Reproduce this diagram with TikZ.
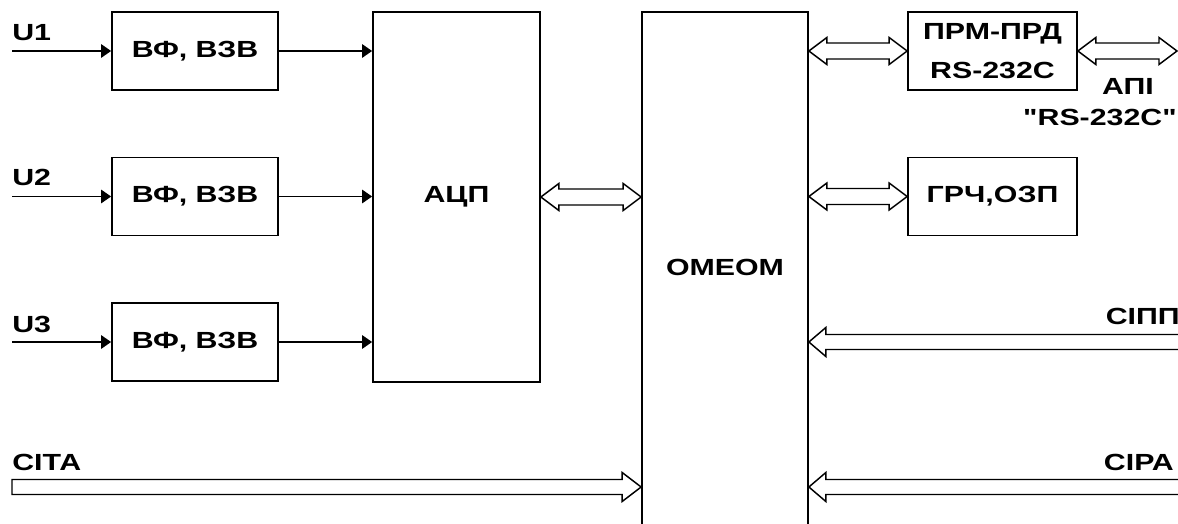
\documentclass[tikz,border=0pt]{standalone}
\usepackage{fontspec}
\newfontfamily\diafont{Liberation Sans}[FakeStretch=1.3]
\usetikzlibrary{arrows.meta,calc}
\newcommand{\txt}{\diafont\fontsize{17.5}{29}\selectfont\bfseries}
\tikzset{
  box/.style={draw, line width=1.3pt, minimum width=124.5pt, minimum height=58.5pt, inner sep=0pt, font=\txt, align=center},
  lbl/.style={inner sep=0pt, font=\txt},
  arr/.style={line width=1.4pt, -{Triangle[length=7.5pt,width=10pt]}},
  bus/.style={line width=1.1pt, fill=white, line join=miter}
}
% hollow double-headed arrow between #1 (left) and #2 (right)
\newcommand{\dblbus}[2]{%
  \draw[bus] (#1) -- ++(18,-13.5) -- ++(0,5.5) -- ($(#2)+(-18,-8)$) -- ++(0,-5.5) -- (#2)
    -- ++(-18,13.5) -- ++(0,-5.5) -- ($(#1)+(18,8)$) -- ++(0,5.5) -- cycle;}
% hollow arrow pointing right: tail #1, tip #2
\newcommand{\rbus}[2]{%
  \draw[bus] ($(#1)+(0,-7.5)$) -- ($(#2)+(-19,-7.5)$) -- ++(0,-7) -- (#2)
    -- ++(-19,14.5) -- ++(0,-7) -- ($(#1)+(0,7.5)$) -- cycle;}
% hollow arrow pointing left: tail #1, tip #2
\newcommand{\lbus}[2]{%
  \draw[bus] ($(#1)+(0,-7.5)$) -- ($(#2)+(17,-7.5)$) -- ++(0,-7) -- (#2)
    -- ++(17,14.5) -- ++(0,-7) -- ($(#1)+(0,7.5)$) -- cycle;}
\begin{document}
\begin{tikzpicture}[x=0.75pt,y=-0.75pt]
\useasboundingbox (0,0) rectangle (1178,524);
\clip (0,0) rectangle (1178,524);
\fill[white] (0,0) rectangle (1178,524);

% filter blocks
\node[box] (f1) at (195,51) {ВФ, ВЗВ};
\node[box] (f2) at (195,196.5) {ВФ, ВЗВ};
\node[box] (f3) at (195,342) {ВФ, ВЗВ};

% ADC
\node[box, minimum width=125.25pt, minimum height=277.5pt] (adc) at (456.5,197) {АЦП};

% microcomputer (open at the bottom, beyond the picture)
\node[box, minimum width=124.5pt, minimum height=399pt] (omeom) at (725,278) {};
\node[lbl] (omeomtxt) at (725,267) {ОМЕОМ};

% right blocks
\node[box, minimum width=126.75pt] (prm) at (992.5,51) {ПРМ-ПРД\\RS-232C};
\node[box, minimum width=126.75pt] (grch) at (992.5,196.5) {ГРЧ,ОЗП};

% input labels and lines
\node[lbl, anchor=west] (u1) at (12,33) {U1};
\node[lbl, anchor=west] (u2) at (12,177) {U2};
\node[lbl, anchor=west] (u3) at (12,324) {U3};
\coordinate (u1s) at (12,51);
\coordinate (u2s) at (12,196.5);
\coordinate (u3s) at (12,342);
\draw[arr] (u1s) -- (f1.west);
\draw[arr] (u2s) -- (f2.west);
\draw[arr] (u3s) -- (f3.west);
\draw[arr] (f1.east) -- (f1.east -| adc.west);
\draw[arr] (f2.east) -- (f2.east -| adc.west);
\draw[arr] (f3.east) -- (f3.east -| adc.west);

% buses
\dblbus{adc.east}{adc.east -| omeom.west}
\dblbus{omeom.east |- prm.west}{prm.west}
\dblbus{omeom.east |- grch.west}{grch.west}
\coordinate (api) at (1177,51);
\dblbus{prm.east}{api}

\node[lbl] (apil) at (1128,86) {АПІ};
\node[lbl, anchor=east] (apil2) at (1177,117) {"RS-232C"};

% СІПП, СІРА, СІТА
\node[lbl, anchor=east] (sipp) at (1180,316) {СІПП};
\coordinate (sippS) at (1182,342);
\lbus{sippS}{sippS -| omeom.east}

\node[lbl, anchor=east] (sira) at (1174,462) {СІРА};
\coordinate (siraS) at (1182,487);
\lbus{siraS}{siraS -| omeom.east}

\node[lbl, anchor=west] (sita) at (12,462) {СІТА};
\coordinate (sitaS) at (12,487);
\rbus{sitaS}{sitaS -| omeom.west}
\end{tikzpicture}
\end{document}
